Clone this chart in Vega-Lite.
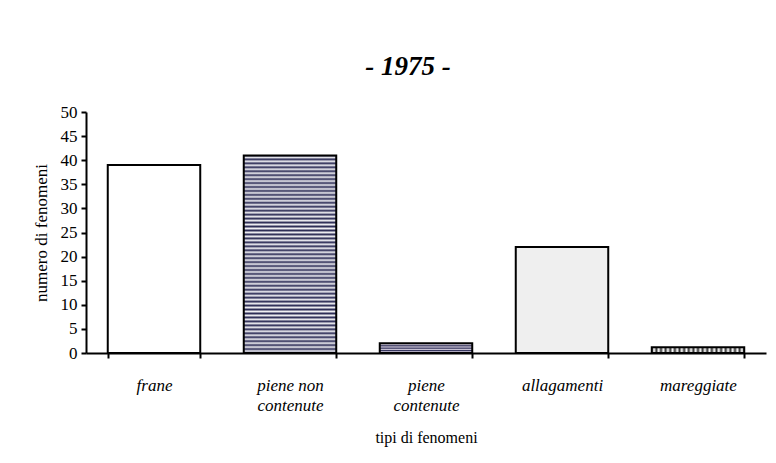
{
  "$schema": "https://vega.github.io/schema/vega-lite/v6.json",
  "width": 680,
  "height": 241,
  "autosize": "none",
  "padding": {"left": 86, "top": 112, "right": 10, "bottom": 110},
  "background": "white",
  "title": {"text": "- 1975 -", "font": "Liberation Serif", "fontSize": 27, "fontWeight": "bold", "fontStyle": "italic", "color": "black", "anchor": "middle", "offset": 22, "dx": -18},
  "data": {"values": [
    {"tipo": "frane", "numero": 39},
    {"tipo": "piene non contenute", "numero": 41},
    {"tipo": "piene contenute", "numero": 2},
    {"tipo": "allagamenti", "numero": 22},
    {"tipo": "mareggiate", "numero": 1.2}
  ]},
  "mark": {"type": "bar", "stroke": "black", "strokeWidth": 2},
  "encoding": {
    "x": {"field": "tipo", "type": "nominal", "sort": null,
      "scale": {"paddingInner": 0.32, "paddingOuter": 0.16},
      "axis": {"title": "tipi di fenomeni", "titleFont": "Liberation Serif", "titleFontSize": 16, "titleFontWeight": "normal", "titleColor": "black", "titlePadding": 16,
        "labelAngle": 0, "labelFont": "Liberation Serif", "labelFontSize": 17, "labelFontStyle": "italic", "labelColor": "black", "labelPadding": 19, "labelLineHeight": 20,
        "labelExpr": "datum.label == 'piene non contenute' ? ['piene non', 'contenute'] : datum.label == 'piene contenute' ? ['piene', 'contenute'] : datum.label",
        "domainColor": "black", "domainWidth": 2, "tickColor": "black", "tickWidth": 2, "tickSize": 5, "tickBand": "extent"}},
    "y": {"field": "numero", "type": "quantitative",
      "scale": {"domain": [0, 50], "nice": false},
      "axis": {"title": "numero di fenomeni", "titleFont": "Liberation Serif", "titleFontSize": 17, "titleFontWeight": "normal", "titleColor": "black", "titlePadding": 10,
        "values": [0, 5, 10, 15, 20, 25, 30, 35, 40, 45, 50], "grid": false,
        "labelFont": "Liberation Serif", "labelFontSize": 17, "labelColor": "black", "labelPadding": 4,
        "domainColor": "black", "domainWidth": 2, "tickColor": "black", "tickWidth": 2, "tickSize": 5}},
    "fill": {
      "condition": [
        {"test": "datum.tipo == 'piene non contenute'", "value": {"gradient": "linear", "x1": 0, "y1": 0, "x2": 0, "y2": 1, "stops": [
          {"offset": 0, "color": "#2b2b55"}, {"offset": 0.01, "color": "#f0f0f4"}, {"offset": 0.02, "color": "#2b2b55"}, {"offset": 0.03, "color": "#f0f0f4"}, {"offset": 0.04, "color": "#2b2b55"}, {"offset": 0.05, "color": "#f0f0f4"}, {"offset": 0.06, "color": "#2b2b55"}, {"offset": 0.07, "color": "#f0f0f4"}, {"offset": 0.08, "color": "#2b2b55"}, {"offset": 0.09, "color": "#f0f0f4"},
          {"offset": 0.10, "color": "#2b2b55"}, {"offset": 0.11, "color": "#f0f0f4"}, {"offset": 0.12, "color": "#2b2b55"}, {"offset": 0.13, "color": "#f0f0f4"}, {"offset": 0.14, "color": "#2b2b55"}, {"offset": 0.15, "color": "#f0f0f4"}, {"offset": 0.16, "color": "#2b2b55"}, {"offset": 0.17, "color": "#f0f0f4"}, {"offset": 0.18, "color": "#2b2b55"}, {"offset": 0.19, "color": "#f0f0f4"},
          {"offset": 0.20, "color": "#2b2b55"}, {"offset": 0.21, "color": "#f0f0f4"}, {"offset": 0.22, "color": "#2b2b55"}, {"offset": 0.23, "color": "#f0f0f4"}, {"offset": 0.24, "color": "#2b2b55"}, {"offset": 0.25, "color": "#f0f0f4"}, {"offset": 0.26, "color": "#2b2b55"}, {"offset": 0.27, "color": "#f0f0f4"}, {"offset": 0.28, "color": "#2b2b55"}, {"offset": 0.29, "color": "#f0f0f4"},
          {"offset": 0.30, "color": "#2b2b55"}, {"offset": 0.31, "color": "#f0f0f4"}, {"offset": 0.32, "color": "#2b2b55"}, {"offset": 0.33, "color": "#f0f0f4"}, {"offset": 0.34, "color": "#2b2b55"}, {"offset": 0.35, "color": "#f0f0f4"}, {"offset": 0.36, "color": "#2b2b55"}, {"offset": 0.37, "color": "#f0f0f4"}, {"offset": 0.38, "color": "#2b2b55"}, {"offset": 0.39, "color": "#f0f0f4"},
          {"offset": 0.40, "color": "#2b2b55"}, {"offset": 0.41, "color": "#f0f0f4"}, {"offset": 0.42, "color": "#2b2b55"}, {"offset": 0.43, "color": "#f0f0f4"}, {"offset": 0.44, "color": "#2b2b55"}, {"offset": 0.45, "color": "#f0f0f4"}, {"offset": 0.46, "color": "#2b2b55"}, {"offset": 0.47, "color": "#f0f0f4"}, {"offset": 0.48, "color": "#2b2b55"}, {"offset": 0.49, "color": "#f0f0f4"},
          {"offset": 0.50, "color": "#2b2b55"}, {"offset": 0.51, "color": "#f0f0f4"}, {"offset": 0.52, "color": "#2b2b55"}, {"offset": 0.53, "color": "#f0f0f4"}, {"offset": 0.54, "color": "#2b2b55"}, {"offset": 0.55, "color": "#f0f0f4"}, {"offset": 0.56, "color": "#2b2b55"}, {"offset": 0.57, "color": "#f0f0f4"}, {"offset": 0.58, "color": "#2b2b55"}, {"offset": 0.59, "color": "#f0f0f4"},
          {"offset": 0.60, "color": "#2b2b55"}, {"offset": 0.61, "color": "#f0f0f4"}, {"offset": 0.62, "color": "#2b2b55"}, {"offset": 0.63, "color": "#f0f0f4"}, {"offset": 0.64, "color": "#2b2b55"}, {"offset": 0.65, "color": "#f0f0f4"}, {"offset": 0.66, "color": "#2b2b55"}, {"offset": 0.67, "color": "#f0f0f4"}, {"offset": 0.68, "color": "#2b2b55"}, {"offset": 0.69, "color": "#f0f0f4"},
          {"offset": 0.70, "color": "#2b2b55"}, {"offset": 0.71, "color": "#f0f0f4"}, {"offset": 0.72, "color": "#2b2b55"}, {"offset": 0.73, "color": "#f0f0f4"}, {"offset": 0.74, "color": "#2b2b55"}, {"offset": 0.75, "color": "#f0f0f4"}, {"offset": 0.76, "color": "#2b2b55"}, {"offset": 0.77, "color": "#f0f0f4"}, {"offset": 0.78, "color": "#2b2b55"}, {"offset": 0.79, "color": "#f0f0f4"},
          {"offset": 0.80, "color": "#2b2b55"}, {"offset": 0.81, "color": "#f0f0f4"}, {"offset": 0.82, "color": "#2b2b55"}, {"offset": 0.83, "color": "#f0f0f4"}, {"offset": 0.84, "color": "#2b2b55"}, {"offset": 0.85, "color": "#f0f0f4"}, {"offset": 0.86, "color": "#2b2b55"}, {"offset": 0.87, "color": "#f0f0f4"}, {"offset": 0.88, "color": "#2b2b55"}, {"offset": 0.89, "color": "#f0f0f4"},
          {"offset": 0.90, "color": "#2b2b55"}, {"offset": 0.91, "color": "#f0f0f4"}, {"offset": 0.92, "color": "#2b2b55"}, {"offset": 0.93, "color": "#f0f0f4"}, {"offset": 0.94, "color": "#2b2b55"}, {"offset": 0.95, "color": "#f0f0f4"}, {"offset": 0.96, "color": "#2b2b55"}, {"offset": 0.97, "color": "#f0f0f4"}, {"offset": 0.98, "color": "#2b2b55"}, {"offset": 0.99, "color": "#f0f0f4"},
          {"offset": 1, "color": "#2b2b55"}]}},
        {"test": "datum.tipo == 'piene contenute'", "value": {"gradient": "linear", "x1": 0, "y1": 0, "x2": 0, "y2": 1, "stops": [
          {"offset": 0, "color": "#2b2b55"}, {"offset": 0.125, "color": "#d8d0e0"}, {"offset": 0.25, "color": "#2b2b55"}, {"offset": 0.375, "color": "#d8d0e0"}, {"offset": 0.5, "color": "#2b2b55"}, {"offset": 0.625, "color": "#d8d0e0"}, {"offset": 0.75, "color": "#2b2b55"}, {"offset": 0.875, "color": "#d8d0e0"}, {"offset": 1, "color": "#2b2b55"}]}},
        {"test": "datum.tipo == 'allagamenti'", "value": "#efefef"},
        {"test": "datum.tipo == 'mareggiate'", "value": {"gradient": "linear", "x1": 0, "y1": 0, "x2": 1, "y2": 0, "stops": [
          {"offset": 0, "color": "#333333"}, {"offset": 0.025, "color": "#ffffff"}, {"offset": 0.05, "color": "#333333"}, {"offset": 0.075, "color": "#ffffff"}, {"offset": 0.1, "color": "#333333"}, {"offset": 0.125, "color": "#ffffff"}, {"offset": 0.15, "color": "#333333"}, {"offset": 0.175, "color": "#ffffff"}, {"offset": 0.2, "color": "#333333"}, {"offset": 0.225, "color": "#ffffff"},
          {"offset": 0.25, "color": "#333333"}, {"offset": 0.275, "color": "#ffffff"}, {"offset": 0.3, "color": "#333333"}, {"offset": 0.325, "color": "#ffffff"}, {"offset": 0.35, "color": "#333333"}, {"offset": 0.375, "color": "#ffffff"}, {"offset": 0.4, "color": "#333333"}, {"offset": 0.425, "color": "#ffffff"}, {"offset": 0.45, "color": "#333333"}, {"offset": 0.475, "color": "#ffffff"},
          {"offset": 0.5, "color": "#333333"}, {"offset": 0.525, "color": "#ffffff"}, {"offset": 0.55, "color": "#333333"}, {"offset": 0.575, "color": "#ffffff"}, {"offset": 0.6, "color": "#333333"}, {"offset": 0.625, "color": "#ffffff"}, {"offset": 0.65, "color": "#333333"}, {"offset": 0.675, "color": "#ffffff"}, {"offset": 0.7, "color": "#333333"}, {"offset": 0.725, "color": "#ffffff"},
          {"offset": 0.75, "color": "#333333"}, {"offset": 0.775, "color": "#ffffff"}, {"offset": 0.8, "color": "#333333"}, {"offset": 0.825, "color": "#ffffff"}, {"offset": 0.85, "color": "#333333"}, {"offset": 0.875, "color": "#ffffff"}, {"offset": 0.9, "color": "#333333"}, {"offset": 0.925, "color": "#ffffff"}, {"offset": 0.95, "color": "#333333"}, {"offset": 0.975, "color": "#ffffff"},
          {"offset": 1, "color": "#333333"}]}}
      ],
      "value": "white"
    }
  },
  "config": {"view": {"stroke": null}}
}
